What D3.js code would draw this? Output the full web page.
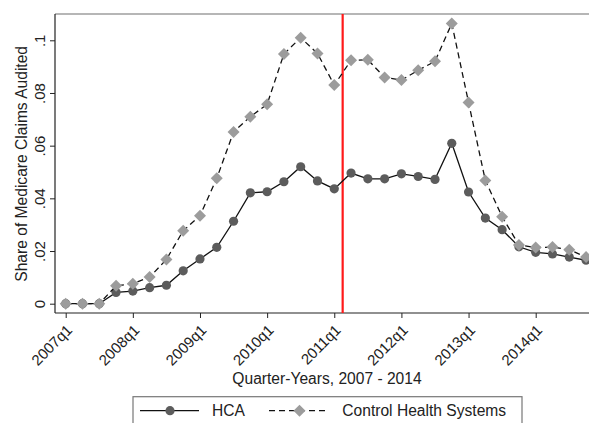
<!DOCTYPE html>
<html>
<head>
<meta charset="utf-8">
<script src="https://cdn.jsdelivr.net/npm/d3@7"></script>
<style>
  html, body { margin: 0; padding: 0; background: #fff; }
  svg { display: block; font-family: "Liberation Sans", Arial, Helvetica, sans-serif; }
</style>
</head>
<body>
<svg id="chart" width="589" height="423"></svg>
<script>
// Quarterly periods 2007q1 .. 2014q4
const years = [2007, 2008, 2009, 2010, 2011, 2012, 2013, 2014];
const quarters = years.flatMap(y => [1, 2, 3, 4].map(q => y + "q" + q));

// Share of Medicare claims audited
const hca = [0, 0, 0, 0.0043, 0.0048, 0.0061, 0.0070, 0.0125,
             0.0170, 0.0214, 0.0313, 0.0421, 0.0425, 0.0463, 0.0520, 0.0466,
             0.0436, 0.0496, 0.0474, 0.0474, 0.0493, 0.0483, 0.0472, 0.0609,
             0.0424, 0.0325, 0.0281, 0.0216, 0.0195, 0.0189, 0.0177, 0.0165];
const control = [0, 0, 0, 0.0068, 0.0076, 0.0101, 0.0168, 0.0277,
                 0.0334, 0.0476, 0.0652, 0.0710, 0.0757, 0.0948, 0.1010, 0.0950,
                 0.0830, 0.0924, 0.0926, 0.0859, 0.0849, 0.0886, 0.0920, 0.1064,
                 0.0764, 0.0468, 0.0330, 0.0223, 0.0213, 0.0215, 0.0205, 0.0177];

const yTicks = [0, 0.02, 0.04, 0.06, 0.08, 0.1];
const yTickLabels = ["0", ".02", ".04", ".06", ".08", ".1"];
const xTickLabels = years.map(y => y + "q1");
const policyBreak = 16.5; // between 2011q1 and 2011q2

const svg = d3.select("#chart");
const tickFs = 15;
const titleFs = 15.6;

const frame = { left: 55, right: 589, top: 14, bottom: 313 };

const x = d3.scaleLinear().domain([0, 28]).range([65.7, 535.7]);
const y = d3.scaleLinear().domain([0, 0.1]).range([303.7, 40.3]);

// Plot frame
svg.append("line").attr("x1", frame.left).attr("x2", frame.right)
  .attr("y1", frame.top).attr("y2", frame.top)
  .attr("stroke", "#6e6e6e").attr("stroke-width", 1.2);

// Y axis
const yAxis = svg.append("g")
  .attr("transform", `translate(${frame.left},0)`)
  .call(d3.axisLeft(y).tickValues(yTicks).tickSize(5)
    .tickFormat((d, i) => yTickLabels[i]));
yAxis.attr("font-family", null).attr("font-size", null);
yAxis.select(".domain").remove();
yAxis.selectAll(".tick line").attr("stroke", "#222");
yAxis.selectAll(".tick text")
  .attr("font-size", tickFs).attr("fill", "#222")
  .attr("x", 0).attr("dy", 0)
  .attr("text-anchor", "middle")
  .attr("transform", "translate(-10,0) rotate(-90)");
svg.append("line").attr("x1", frame.left).attr("x2", frame.left)
  .attr("y1", frame.top).attr("y2", frame.bottom)
  .attr("stroke", "#222").attr("stroke-width", 1.2);

// X axis
const xAxis = svg.append("g")
  .attr("transform", `translate(0,${frame.bottom})`)
  .call(d3.axisBottom(x).tickValues(years.map((_, i) => i * 4)).tickSize(5)
    .tickFormat((d, i) => xTickLabels[i]));
xAxis.attr("font-family", null).attr("font-size", null);
xAxis.select(".domain").remove();
xAxis.selectAll(".tick line").attr("stroke", "#222");
xAxis.selectAll(".tick text")
  .attr("font-size", tickFs).attr("fill", "#222")
  .attr("text-anchor", "end")
  .attr("dy", 0).attr("y", 0)
  .attr("transform", "translate(7,18) rotate(-45)");
svg.append("line").attr("x1", frame.left).attr("x2", frame.right)
  .attr("y1", frame.bottom).attr("y2", frame.bottom)
  .attr("stroke", "#222").attr("stroke-width", 1.2);

// Axis titles
svg.append("text")
  .attr("transform", `translate(26.5,${(46.7 + 281) / 2}) rotate(-90)`)
  .attr("text-anchor", "middle").attr("font-size", titleFs).attr("fill", "#222")
  .text("Share of Medicare Claims Audited");
svg.append("text")
  .attr("x", 327).attr("y", 384.3)
  .attr("text-anchor", "middle").attr("font-size", titleFs).attr("fill", "#222")
  .text("Quarter-Years, 2007 - 2014");

// Policy break line
svg.append("line")
  .attr("x1", x(policyBreak)).attr("x2", x(policyBreak))
  .attr("y1", frame.top).attr("y2", frame.bottom)
  .attr("stroke", "#ff1a1a").attr("stroke-width", 2.2);

const line = d3.line().x((d, i) => x(i)).y(d => y(d));
const circleColor = "#5c5c5c";
const diamondColor = "#9c9c9c";

function drawDiamond(sel, cx, cy, r) {
  sel.append("path")
    .attr("d", `M${cx},${cy - r}L${cx + r},${cy}L${cx},${cy + r}L${cx - r},${cy}Z`)
    .attr("fill", diamondColor);
}

// HCA series
svg.append("path").datum(hca)
  .attr("d", line).attr("fill", "none")
  .attr("stroke", "#111").attr("stroke-width", 1.3);
svg.append("g").selectAll("circle").data(hca).join("circle")
  .attr("cx", (d, i) => x(i)).attr("cy", d => y(d)).attr("r", 4.6)
  .attr("fill", circleColor);

// Control series
svg.append("path").datum(control)
  .attr("d", line).attr("fill", "none")
  .attr("stroke", "#111").attr("stroke-width", 1.3)
  .attr("stroke-dasharray", "6,4");
const dg = svg.append("g");
control.forEach((d, i) => drawDiamond(dg, x(i), y(d), 6));

// Legend
const lg = svg.append("g");
lg.append("rect").attr("x", 133).attr("y", 396.7)
  .attr("width", 389).attr("height", 40)
  .attr("fill", "#fff").attr("stroke", "#777").attr("stroke-width", 1.2);
const ly = 410.7;
lg.append("line").attr("x1", 140).attr("x2", 199).attr("y1", ly).attr("y2", ly)
  .attr("stroke", "#111").attr("stroke-width", 1.3);
lg.append("circle").attr("cx", 170).attr("cy", ly).attr("r", 4.6).attr("fill", circleColor);
lg.append("text").attr("x", 212).attr("y", 416).attr("font-size", titleFs).attr("fill", "#222").text("HCA");
lg.append("line").attr("x1", 269).attr("x2", 328).attr("y1", ly).attr("y2", ly)
  .attr("stroke", "#111").attr("stroke-width", 1.3).attr("stroke-dasharray", "6,4");
drawDiamond(lg, 299.5, ly, 6);
lg.append("text").attr("x", 342.3).attr("y", 416).attr("font-size", titleFs).attr("fill", "#222").text("Control Health Systems");
</script>
</body>
</html>
